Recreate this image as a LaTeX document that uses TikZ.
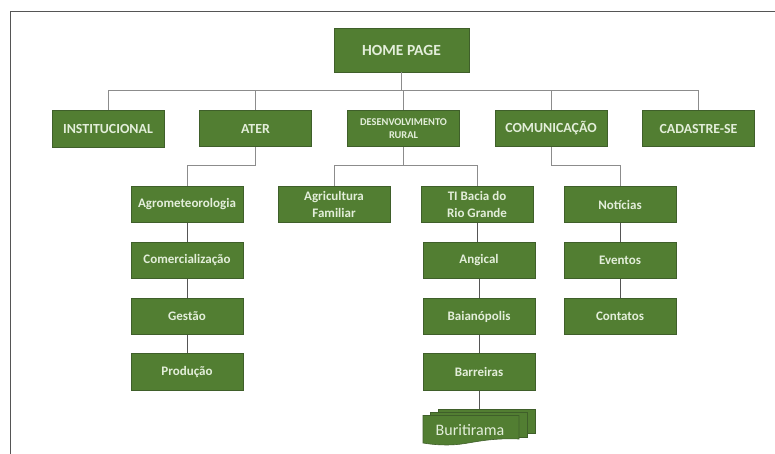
\documentclass[tikz,border=0pt]{standalone}
\usepackage{fontspec}
\setmainfont{Carlito}
\definecolor{boxgreen}{HTML}{527E32}
\definecolor{boxedge}{HTML}{3F5F2A}
\definecolor{txt}{HTML}{E3EEDA}
\definecolor{linkgray}{HTML}{8C8C8C}
\definecolor{linkdark}{HTML}{555555}
\tikzset{
  card/.style={draw=boxedge,line width=0.9pt,fill=boxgreen,text=txt,font=\bfseries\fontsize{13}{17}\selectfont,align=center,inner sep=0pt,minimum width=112pt,minimum height=36.5pt,anchor=center},
  topcard/.style={card,font=\bfseries\fontsize{13.9}{17}\selectfont},
  link/.style={draw=linkgray,line width=1pt},
  vlink/.style={draw=linkdark,line width=0.8pt},
  stacksheet/.style={draw=boxedge,line width=0.6pt,fill=boxgreen}
}
\begin{document}
\begin{tikzpicture}[x=1pt,y=-1pt]
\useasboundingbox (0,0) rectangle (775,454);
\fill[white] (0,0) rectangle (775,454);
\draw[linkdark,line width=0.9pt] (10.5,454) -- (10.5,11.5) -- (775,11.5);
% nodes
\node[card,minimum width=135pt,minimum height=44pt,font=\bfseries\fontsize{15.5}{18}\selectfont] (home) at (401.5,50) {HOME PAGE};
\node[topcard] (inst) at (108,129) {INSTITUCIONAL};
\node[topcard] (ater) at (255.5,128.5) {ATER};
\node[card,font=\bfseries\fontsize{10.4}{13}\selectfont] (dev) at (403.5,128.5) {DESENVOLVIMENTO\\RURAL};
\node[topcard] (com) at (551,128.5) {COMUNICAÇÃO};
\node[topcard] (cad) at (698.5,128.5) {CADASTRE-SE};
\node[card] (agro) at (187,204.5) {Agrometeorologia};
\node[card] (comer) at (187,260.5) {Comercialização};
\node[card] (gest) at (187,316.5) {Gestão};
\node[card] (prod) at (187,372) {Produção};
\node[card] (agri) at (334,204.5) {Agricultura\\Familiar};
\node[card] (ti) at (477,204.5) {TI Bacia do\\Rio Grande};
\node[card] (ang) at (479,260.5) {Angical};
\node[card] (bai) at (479,316.5) {Baianópolis};
\node[card] (bar) at (479,372) {Barreiras};
\node[card] (not) at (620,204.5) {Notícias};
\node[card] (eve) at (620,260.5) {Eventos};
\node[card] (cont) at (620,316.5) {Contatos};
% multi-document
\coordinate (buritop) at (479,409);
\draw[stacksheet] (438,409) -- (535,409) -- (535,433) -- (438,433) -- cycle;
\draw[stacksheet] (430.5,412.5) -- (527,412.5) -- (527,437) -- (430.5,437) -- cycle;
\draw[stacksheet] (423,415.5) -- (519,415.5) -- (519,439) .. controls (495,438) and (480,441) .. (465,443.5) .. controls (450,446) and (435,445) .. (423,443) -- cycle;
\node[font=\fontsize{16}{18}\selectfont,text=txt,inner sep=0pt] (buri) at (470,430) {Buritirama};
% connectors
\coordinate (busY) at (401.5,91);
\draw[link] (home.south) -- (busY);
\draw[link] (inst.north) |- (busY);
\draw[link] (cad.north) |- (busY);
\draw[link] (ater.north) -- (ater.north |- busY);
\draw[link] (dev.north) -- (dev.north |- busY);
\draw[link] (com.north) -- (com.north |- busY);
\draw[link] (ater.south) |- (agro.north |- 0,166) -- (agro.north);
\draw[link] (dev.south) |- (agri.north |- 0,166) -- (agri.north);
\draw[link] (dev.south) |- (ti.north |- 0,166) -- (ti.north);
\draw[link] (com.south) |- (not.north |- 0,166) -- (not.north);
\draw[vlink] (agro) -- (comer);
\draw[vlink] (comer) -- (gest);
\draw[vlink] (gest) -- (prod);
\draw[vlink] (ti.south) -- (ti.south |- ang.north);
\draw[vlink] (ang) -- (bai);
\draw[vlink] (bai) -- (bar);
\draw[vlink] (bar.south) -- (bar.south |- buritop);
\draw[vlink] (not) -- (eve);
\draw[vlink] (eve) -- (cont);
\end{tikzpicture}
\end{document}
